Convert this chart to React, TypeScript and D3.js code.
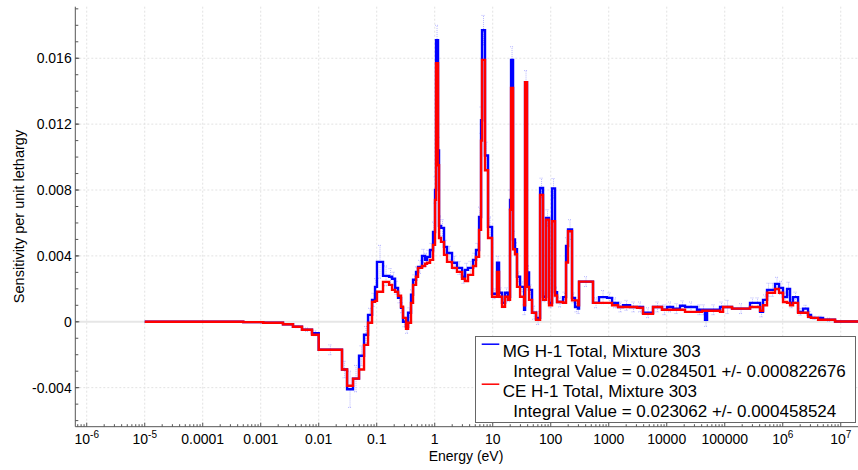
import React from "react";
import * as d3 from "d3";

// Group boundaries (eV)
const bounds: number[] = [1e-5, 5e-4, 1.1e-3, 2.42e-3, 3.6e-3, 5.15e-3, 7.66e-3, 0.01, 0.0252, 0.0308, 0.039, 0.0495, 0.0604, 0.0708, 0.083, 0.0935, 0.101, 0.1284, 0.163, 0.1837, 0.207, 0.233, 0.2625, 0.284, 0.32, 0.3467, 0.39, 0.4227, 0.4764, 0.515, 0.604, 0.681, 0.737, 0.83, 0.935, 1.012, 1.053, 1.14, 1.186, 1.284, 1.446, 1.629, 1.987, 2.42, 2.958, 3.327, 3.75, 4.575, 5.15, 5.81, 6.29, 6.54, 7.36, 8.3, 9.73, 11.86, 12.85, 14.47, 16.3, 18.36, 19.87, 20.7, 22.4, 24.2, 26.2, 29.6, 34.7, 36.1, 39.0, 42.3, 47.6, 55.8, 65.5, 73.7, 83.0, 93.5, 105.3, 118.6, 128.5, 163, 183.6, 198.7, 232.8, 262.4, 295.6, 307.6, 535.8, 680, 935, 1141, 1446, 1765, 2330, 3076, 3902, 5803, 8299, 10120, 12850, 16950, 20670, 33270, 40640, 45710, 49550, 82990, 93540, 133700, 272900, 332700, 406400, 457100, 535800, 604000, 736200, 863000, 1.012e6, 1.186e6, 1.337e6, 1.506e6, 1.837e6, 2.24e6, 2.73e6, 3.076e6, 4.064e6, 4.955e6, 7.98e6, 2e7];

// MG H-1 Total, Mixture 303 (blue)
const mgValues: number[] = [0, -0.00002, -0.00006, -0.00015, -0.0003, -0.00048, -0.0007, -0.0017, -0.0029, -0.0041, -0.00345, -0.00206, -0.00079, 0.00042, 0.00133, 0.00212, 0.00364, 0.00279, 0.00273, 0.00261, 0.00206, 0.00145, 0.00085, 0.0, -0.0003, 0.00055, 0.00164, 0.00255, 0.00303, 0.00333, 0.004, 0.00376, 0.00394, 0.00436, 0.00545, 0.008, 0.0171, 0.0104, 0.00582, 0.0057, 0.00455, 0.00418, 0.00358, 0.00327, 0.00273, 0.00315, 0.00327, 0.00376, 0.00436, 0.00636, 0.01224, 0.0177, 0.0101, 0.00576, 0.0017, 0.00358, 0.00176, 0.00115, 0.00176, 0.00152, 0.0074, 0.0159, 0.005, 0.0044, 0.00273, 0.00212, 0.00073, 0.01455, 0.003, 0.00194, 0.00055, 0.00024, 0.00812, 0.00152, 0.0063, 0.00115, 0.0081, 0.0018, 0.0012, 0.0015, 0.0046, 0.0056, 0.00145, 0.0009, 0.0008, 0.00244, 0.00115, 0.0015, 0.00145, 0.00115, 0.0009, 0.001, 0.0009, 0.0009, 0.00055, 0.0009, 0.00073, 0.0009, 0.0008, 0.00097, 0.0009, 0.00073, 0.00073, 0.00012, 0.00073, 0.0009, 0.0009, 0.0008, 0.00115, 0.00115, 0.0006, 0.00133, 0.00194, 0.00194, 0.0023, 0.00206, 0.0015, 0.002, 0.00115, 0.0015, 0.0006, 0.0008, 0.00042, 0.00024, 0.00024, 0.00012, 0.00002];

// CE H-1 Total, Mixture 303 (red)
const ceValues: number[] = [0, -0.00002, -0.00006, -0.00015, -0.0003, -0.00048, -0.00079, -0.0017, -0.0029, -0.00388, -0.00345, -0.0029, -0.0014, -0.00006, 0.00121, 0.00127, 0.00182, 0.00242, 0.00224, 0.00194, 0.00182, 0.00158, 0.00091, 0.00024, -0.00042, -0.00006, 0.00115, 0.00224, 0.00273, 0.00327, 0.00339, 0.00352, 0.00358, 0.00376, 0.00467, 0.0074, 0.0157, 0.0095, 0.00509, 0.00485, 0.00406, 0.00364, 0.00327, 0.00303, 0.00261, 0.00248, 0.00285, 0.00339, 0.00394, 0.00558, 0.011, 0.0159, 0.0092, 0.00509, 0.00152, 0.00303, 0.00152, 0.00091, 0.00152, 0.00133, 0.0068, 0.0142, 0.0044, 0.0041, 0.00212, 0.00152, 0.001, 0.01455, 0.00212, 0.00133, 0.00055, 0.00012, 0.0077, 0.00133, 0.0062, 0.001, 0.0061, 0.0016, 0.0012, 0.00115, 0.0036, 0.0055, 0.0013, 0.0013, 0.001, 0.00244, 0.00115, 0.00115, 0.00115, 0.001, 0.0009, 0.0009, 0.0009, 0.00085, 0.00048, 0.0009, 0.00073, 0.00073, 0.00073, 0.00073, 0.0006, 0.0006, 0.00067, 0.00067, 0.00067, 0.0006, 0.0009, 0.0008, 0.0009, 0.0009, 0.00067, 0.001, 0.00176, 0.00176, 0.002, 0.00176, 0.0012, 0.00115, 0.001, 0.00115, 0.00055, 0.00055, 0.0003, 0.00024, 0.00012, 0.00012, 0.00002];

// Uncertainty (one standard deviation) of each group
const errValues: number[] = [0, 0.00001, 0.00002, 0.00004, 0.00006, 0.0001, 0.00015, 0.0003, 0.0005, 0.0011, 0.0008, 0.0006, 0.0005, 0.0004, 0.0004, 0.0005, 0.001, 0.0006, 0.0005, 0.0004, 0.0004, 0.0003, 0.0003, 0.0003, 0.0004, 0.0003, 0.0003, 0.0003, 0.0003, 0.0004, 0.0004, 0.0004, 0.0004, 0.0004, 0.0006, 0.0008, 0.0009, 0.0008, 0.0006, 0.0005, 0.0004, 0.0004, 0.0004, 0.0004, 0.0004, 0.0004, 0.0004, 0.0004, 0.0004, 0.0006, 0.0008, 0.0009, 0.0008, 0.0006, 0.0003, 0.0004, 0.0003, 0.0003, 0.0003, 0.0003, 0.0006, 0.0008, 0.0005, 0.0004, 0.0003, 0.0003, 0.0003, 0.0007, 0.0004, 0.0003, 0.0004, 0.0004, 0.0006, 0.0003, 0.0005, 0.0003, 0.0006, 0.0003, 0.0003, 0.0003, 0.0005, 0.0006, 0.0003, 0.0003, 0.0003, 0.0003, 0.0003, 0.0004, 0.0003, 0.0003, 0.0003, 0.0003, 0.0003, 0.0003, 0.0003, 0.0003, 0.0003, 0.0003, 0.0003, 0.0003, 0.0003, 0.0003, 0.0003, 0.0004, 0.0003, 0.0003, 0.0004, 0.0003, 0.0003, 0.0003, 0.0003, 0.0003, 0.0004, 0.0004, 0.0004, 0.0004, 0.0003, 0.0004, 0.0003, 0.0003, 0.0002, 0.0002, 0.0002, 0.0001, 0.0001, 0.0001, 0.00002];

const xTickExps: number[] = [-6, -5, -4, -3, -2, -1, 0, 1, 2, 3, 4, 5, 6, 7];
const xTickLabels: string[] = ["10|-6", "10|-5", "0.0001", "0.001", "0.01", "0.1", "1", "10", "100", "1000", "10000", "100000", "10|6", "10|7"];
const yTicks: number[] = [-0.004, 0, 0.004, 0.008, 0.012, 0.016];
const yTickLabels: string[] = ["-0.004", "0", "0.004", "0.008", "0.012", "0.016"];

const legendItems = [
  { name: "MG H-1 Total, Mixture 303", integral: "Integral Value = 0.0284501 +/- 0.000822676", color: "#0000ff" },
  { name: "CE H-1 Total, Mixture 303", integral: "Integral Value = 0.023062 +/- 0.000458524", color: "#ff0000" },
];

const W = 858, H = 470;
const PL = 75.3, PR = 858.2, PT = 6.7, PB = 426.7;
const FONT = "'Liberation Sans', Arial, sans-serif";

export default function App() {
  const x = d3.scaleLog().domain([Math.pow(10, -6.197), 2e7]).range([PL, PR]);
  const y = d3.scaleLinear().domain([-0.00637, 0.01913]).range([PB, PT]);

  const stepLine = (vals: number[]) => {
    const pts: [number, number][] = vals.map((v, i) => [bounds[i], v]);
    pts.push([bounds[bounds.length - 1], vals[vals.length - 1]]);
    return d3.line<[number, number]>().x(d => x(d[0])).y(d => y(d[1])).curve(d3.curveStepAfter)(pts) || "";
  };

  const minorX: number[] = [];
  for (let e = -7; e <= 7; e++) {
    for (let m = 2; m <= 9; m++) {
      const v = m * Math.pow(10, e);
      if (x(v) >= PL && x(v) <= W) minorX.push(v);
    }
  }
  const minorY = d3.range(-6, 20).map(k => k * 0.001).filter(v => y(v) >= PT && y(v) <= PB);

  return (
    <svg width={W} height={H} style={{ position: "absolute", left: 0, top: 0, background: "#fff" }} fontFamily={FONT}>
      <rect x={0} y={0} width={W} height={H} fill="#fff" />
      {/* grid */}
      {xTickExps.map(e => (
        <line key={"gx" + e} x1={x(Math.pow(10, e))} x2={x(Math.pow(10, e))} y1={PT} y2={PB} stroke="#e2e2e2" strokeDasharray="2,2" />
      ))}
      {yTicks.filter(t => t !== 0).map(t => (
        <line key={"gy" + t} x1={PL} x2={W} y1={y(t)} y2={y(t)} stroke="#e2e2e2" strokeDasharray="2,2" />
      ))}
      <line x1={PL} x2={W} y1={y(0)} y2={y(0)} stroke="#e6e6e6" strokeWidth={2} />

      {/* error bars */}
      <g stroke="#9a9aff" strokeWidth={1} strokeDasharray="1,1" opacity={0.7}>
        {mgValues.map((v, i) => {
          const err = errValues[i];
          if (err <= 0.00005) return null;
          const xm = x(Math.sqrt(bounds[i] * bounds[i + 1]));
          return (
            <g key={"e" + i}>
              <line x1={xm} x2={xm} y1={y(v - err)} y2={y(v + err)} />
              <line x1={xm - 2} x2={xm + 2} y1={y(v - err)} y2={y(v - err)} />
              <line x1={xm - 2} x2={xm + 2} y1={y(v + err)} y2={y(v + err)} />
            </g>
          );
        })}
      </g>

      {/* series */}
      <path d={stepLine(mgValues)} fill="none" stroke="#0000ff" strokeWidth={2.4} />
      <path d={stepLine(ceValues)} fill="none" stroke="#ff0000" strokeWidth={2.4} />

      {/* axes */}
      <line x1={PL} x2={PL} y1={PT} y2={PB} stroke="#555" />
      <line x1={PL} x2={W} y1={PB} y2={PB} stroke="#555" />
      {minorX.map((v, i) => (
        <line key={"mx" + i} x1={x(v)} x2={x(v)} y1={PB} y2={PB - 2.5} stroke="#555" />
      ))}
      {xTickExps.map(e => (
        <line key={"tx" + e} x1={x(Math.pow(10, e))} x2={x(Math.pow(10, e))} y1={PB} y2={PB - 4} stroke="#555" />
      ))}
      {minorY.map((v, i) => (
        <line key={"my" + i} x1={PL} x2={PL + 3} y1={y(v)} y2={y(v)} stroke="#555" />
      ))}
      {yTicks.map(t => (
        <line key={"ty" + t} x1={PL} x2={PL + 4} y1={y(t)} y2={y(t)} stroke="#555" />
      ))}

      {/* tick labels */}
      {xTickExps.map((e, i) => {
        const lab = xTickLabels[i];
        const parts = lab.split("|");
        return (
          <text key={"lx" + e} x={x(Math.pow(10, e))} y={444} fontSize={14} textAnchor="middle" fill="#000">
            {parts[0]}
            {parts.length > 1 ? <tspan dy={-6} fontSize={10}>{parts[1]}</tspan> : null}
          </text>
        );
      })}
      {yTicks.map((t, i) => (
        <text key={"ly" + t} x={71.7} y={y(t) + 5} fontSize={14} textAnchor="end" fill="#000">{yTickLabels[i]}</text>
      ))}

      {/* axis titles */}
      <text x={466} y={461} fontSize={14} textAnchor="middle" fill="#000">Energy (eV)</text>
      <text transform={`translate(23.5,216.5) rotate(-90)`} fontSize={14.5} textAnchor="middle" fill="#000">Sensitivity per unit lethargy</text>

      {/* legend */}
      <rect x={475.5} y={336.5} width={380} height={86} fill="#fff" stroke="#666" />
      {legendItems.map((it, i) => {
        const base = 356.7 + i * 40;
        return (
          <g key={"lg" + i}>
            <line x1={481.7} x2={499.3} y1={base - 12.5} y2={base - 12.5} stroke={it.color} strokeWidth={1.5} />
            <text x={502.7} y={base} fontSize={17} fill="#000">{it.name}</text>
            <text x={513.3} y={base + 20} fontSize={17} fill="#000">{it.integral}</text>
          </g>
        );
      })}
    </svg>
  );
}
